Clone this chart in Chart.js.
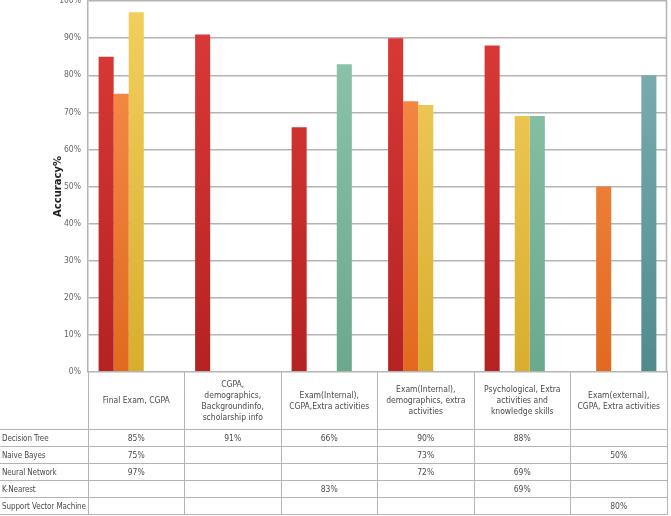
<!DOCTYPE html>
<html>
<head>
<meta charset="utf-8">
<script src="https://cdn.jsdelivr.net/npm/chart.js@4"></script>
<style>
  body { margin: 0; background: #fff; }
  #wrap { position: relative; width: 671px; height: 516px; overflow: hidden; background: #fff; }
  #plot { position: absolute; left: 0; top: -11px; width: 671px; height: 395px; }
  #tbl { position: absolute; left: 0; top: 371px; width: 667px; border-collapse: collapse; table-layout: fixed;
         font-family: "DejaVu Sans Condensed", "DejaVu Sans", sans-serif; font-stretch: condensed;
         font-size: 8.5px; color: #4a4a4a; }
  #tbl td { padding: 0; border: 1px solid #b4b4b4; text-align: center; line-height: 11px; white-space: nowrap; overflow: hidden; }
  #tbl td.lab { text-align: left; padding-left: 2px; border-left: none; font-size: 8px; letter-spacing: -0.1px; }
  #tbl tr.head td { height: 57px; }
  #tbl tr.head td.lab { border-top: none; border-left: none; }
  #tbl tr.row td { height: 16px; }
</style>
</head>
<body>
<div id="wrap">
  <div id="plot"><canvas id="myChart"></canvas></div>
  <table id="tbl"></table>
</div>
<script>
const categories = [
  ['Final Exam, CGPA'],
  ['CGPA,', 'demographics,', 'Backgroundinfo,', 'scholarship info'],
  ['Exam(Internal),', 'CGPA,Extra activities'],
  ['Exam(Internal),', 'demographics, extra', 'activities'],
  ['Psychological, Extra', 'activities and', 'knowledge skills'],
  ['Exam(external),', 'CGPA, Extra activities']
];

const seriesNames = ['Decision Tree', 'Naive Bayes', 'Neural Network', 'K-Nearest', 'Support Vector Machine'];

const decisionTree  = [85, 91, 66, 90, 88, null];
const naiveBayes    = [75, null, null, 73, null, 50];
const neuralNetwork = [97, null, null, 72, 69, null];
const kNearest      = [null, null, 83, null, 69, null];
const svm           = [null, null, null, null, null, 80];

const yTicks = [0, 10, 20, 30, 40, 50, 60, 70, 80, 90, 100];

// top / bottom colours of each bar gradient
const colours = [
  ['#dc3b37', '#b52222'],
  ['#f7924f', '#e2691f'],
  ['#f3cf5e', '#d9ae2e'],
  ['#8fc7ad', '#6ba98c'],
  ['#83b3b6', '#4f8b8e']
];

function grad(i) {
  return function(ctx) {
    const area = ctx.chart.chartArea;
    if (!area) return colours[i][0];
    const g = ctx.chart.ctx.createLinearGradient(0, area.top, 0, area.bottom);
    g.addColorStop(0, colours[i][0]);
    g.addColorStop(1, colours[i][1]);
    return g;
  };
}

const allSeries = [decisionTree, naiveBayes, neuralNetwork, kNearest, svm];

const data = {
  labels: categories.map(c => c.join(' ')),
  datasets: allSeries.map((s, i) => ({
    label: seriesNames[i],
    data: s,
    backgroundColor: grad(i),
    borderWidth: 0,
    categoryPercentage: 0.78,
    barPercentage: 1.0
  }))
};

const rightEdge = {
  id: 'rightEdge',
  afterDraw(chart) {
    const a = chart.chartArea, c = chart.ctx;
    c.save();
    c.strokeStyle = '#b4b4b4';
    c.lineWidth = 1.5;
    c.beginPath();
    c.moveTo(a.right - 0.5, a.top);
    c.lineTo(a.right - 0.5, a.bottom);
    c.stroke();
    c.restore();
  }
};

const config = {
  type: 'bar',
  data: data,
  options: {
    responsive: true,
    maintainAspectRatio: false,
    animation: false,
    layout: { padding: { left: 0, right: 4, top: 0, bottom: 0 } },
    plugins: { legend: { display: false }, tooltip: { enabled: false } },
    scales: {
      x: { display: false },
      y: {
        min: 0, max: 100,
        afterBuildTicks: s => { s.ticks = yTicks.map(v => ({ value: v })); },
        afterFit: s => { s.width = 88; },
        ticks: {
          callback: v => v + '%',
          color: '#666',
          padding: 7,
          font: { family: '"DejaVu Sans Condensed", "DejaVu Sans", sans-serif', size: 8.5 }
        },
        grid: { color: '#b4b4b4', lineWidth: 1.5, drawTicks: false },
        border: { color: '#b4b4b4', width: 1.5 },
        title: {
          display: true,
          text: 'Accuracy%',
          color: '#222',
          padding: { top: 52, bottom: 0 },
          font: { family: '"DejaVu Sans", sans-serif', size: 10, weight: 'bold' }
        }
      }
    }
  },
  plugins: [rightEdge]
};

const myChart = new Chart(document.getElementById('myChart'), config);

// data table under the plot
const tbl = document.getElementById('tbl');
let html = '<colgroup><col style="width:88px">' + categories.map(() => '<col style="width:96.5px">').join('') + '</colgroup>';
html += '<tr class="head"><td class="lab"></td>' + categories.map(c => '<td>' + c.join('<br>') + '</td>').join('') + '</tr>';
allSeries.forEach((s, i) => {
  html += '<tr class="row"><td class="lab">' + seriesNames[i] + '</td>' +
    s.map(v => '<td>' + (v == null ? '' : v + '%') + '</td>').join('') + '</tr>';
});
tbl.innerHTML = html;
</script>
</body>
</html>
